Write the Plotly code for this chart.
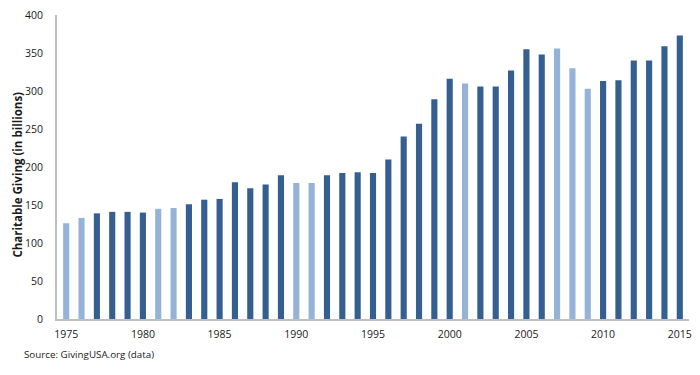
import plotly.graph_objects as go

years = list(range(1975, 2016))
giving = [126, 133, 139, 141, 141, 140, 145, 146, 151, 157, 158, 180, 172, 177, 189,
          179, 179, 189, 192, 193, 192, 210, 240, 257, 289, 316, 310, 306, 306, 327,
          355, 348, 356, 330, 303, 313, 314, 340, 340, 359, 373]
recession_years = [1975, 1976, 1981, 1982, 1990, 1991, 2001, 2007, 2008, 2009]

DARK = "#365f91"
LIGHT = "#95b3d7"
colors = [LIGHT if y in recession_years else DARK for y in years]

font = "Open Sans, Liberation Sans, sans-serif"

fig = go.Figure(go.Bar(x=years, y=giving, marker=dict(color=colors, line=dict(width=0)),
                       width=0.4))

fig.update_layout(
    width=700, height=375,
    margin=dict(l=57, r=8, t=10, b=56),
    plot_bgcolor="white", paper_bgcolor="white",
    showlegend=False,
    font=dict(family=font, size=10.5, color="#1a1a1a"),
    xaxis=dict(range=[1974.4, 2015.6], tickvals=list(range(1975, 2016, 5)),
               showgrid=False, zeroline=False, showline=True, linecolor="#bfbfbf",
               linewidth=2, ticks="", ticklabelstandoff=4),
    yaxis=dict(range=[0, 400], dtick=50, showgrid=False, zeroline=False,
               showline=True, linecolor="#bfbfbf", linewidth=2, ticks="",
               ticklabelstandoff=10),
    annotations=[
        dict(text="<b>Charitable Giving (in billions)</b>", textangle=-90,
             xref="paper", yref="paper", x=(17 - 57) / 635, y=(319 - 172) / 309,
             xanchor="center", yanchor="middle", showarrow=False,
             font=dict(family=font, size=11.5, color="#1a1a1a")),
        dict(text="Source: GivingUSA.org (data)", xref="paper", yref="paper",
             x=(22 - 57) / 635, y=-(355 - 319) / 309, xanchor="left", yanchor="middle",
             showarrow=False, font=dict(family=font, size=9.8, color="#1a1a1a")),
    ],
)

fig.write_html("out.html", config={"displayModeBar": False},
               post_script="document.body.style.margin='0';document.body.style.overflow='hidden';")
